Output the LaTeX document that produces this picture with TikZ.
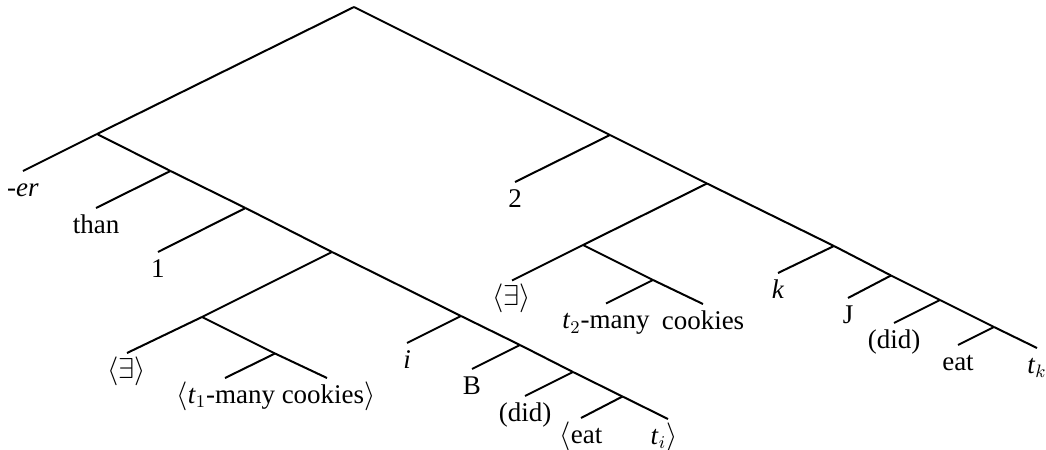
\documentclass[tikz,border=0pt]{standalone}
\usepackage{fontspec}
\setmainfont{Liberation Serif}
\usepackage{amsmath}

\begin{document}
\begin{tikzpicture}[
    x=0.5pt, y=-0.5pt,
    edge/.style={line width=1pt},
    leaf/.style={
        anchor=north,
        inner xsep=0pt,
        inner ysep=2.5pt,
        text height=10pt,
        text depth=3pt,
        font=\fontsize{13.5}{16}\selectfont
    }
]
\useasboundingbox (0,0) rectangle (1046,450);

% branching points
\coordinate (root) at (354,7);
\coordinate (comp) at (97,134);
\coordinate (than) at (170.5,171);
\coordinate (one) at (245.5,208);
\coordinate (quant) at (332,252);
\coordinate (ex) at (202,317);
\coordinate (many) at (275,353.5);
\coordinate (idx) at (461,316);
\coordinate (subj) at (520,345);
\coordinate (aux) at (573,372);
\coordinate (vp) at (622.5,396.5);
\coordinate (two) at (610,135);
\coordinate (main) at (707,183.5);
\coordinate (ex2) at (583,245);
\coordinate (many2) at (653,280);
\coordinate (kidx) at (834,246);
\coordinate (subj2) at (891,275.5);
\coordinate (aux2) at (940,300);
\coordinate (vp2) at (994,327);

% ends of the two leaves under one label
\coordinate (tone) at (225,378);
\coordinate (cook) at (327,378);

% leaves
\node[leaf] (er) at (23,171) {\textit{-er}};
\node[leaf] (thanw) at (96,208) {than};
\node[leaf] (onew) at (158,252) {1};
\node[leaf] (exw) at (127,353) {$\langle\exists\rangle$};
\node[leaf] (manyw) at (276,378) {$\langle$\textit{t}$_1$-many cookies$\rangle$};
\node[leaf] (iw) at (407,343) {\textit{i}};
\node[leaf] (bw) at (472,369) {B};
\node[leaf] (didw) at (525,396) {(did)};
\node[leaf] (eatw) at (581,418) {$\langle$eat};
\node[leaf] (tiw) at (664,419) {\textit{t}$_i\rangle$};
\node[leaf] (twow) at (515,182) {2};
\node[leaf] (ex2w) at (512,280.5) {$\langle\exists\rangle$};
\node[leaf] (tw) at (606,303.5) {\textit{t}$_2$-many};
\node[leaf] (cookw) at (703,304) {cookies};
\node[leaf] (kw) at (778,273) {\textit{k}};
\node[leaf] (jw) at (848,298) {J};
\node[leaf] (did2w) at (894,323) {(did)};
\node[leaf] (eat2w) at (958,345) {eat};
\node[leaf] (tkw) at (1037,348) {\textit{t}$_k$};

% left part
\draw[edge] (root) -- (comp);
\draw[edge] (comp) -- (er.north);
\draw[edge] (comp) -- (than);
\draw[edge] (than) -- (thanw.north);
\draw[edge] (than) -- (one);
\draw[edge] (one) -- (onew.north);
\draw[edge] (one) -- (quant);
\draw[edge] (quant) -- (ex);
\draw[edge] (ex) -- (exw.north);
\draw[edge] (ex) -- (many);
\draw[edge] (many) -- (tone);
\draw[edge] (many) -- (cook);
\draw[edge] (quant) -- (idx);
\draw[edge] (idx) -- (iw.north);
\draw[edge] (idx) -- (subj);
\draw[edge] (subj) -- (bw.north);
\draw[edge] (subj) -- (aux);
\draw[edge] (aux) -- (didw.north);
\draw[edge] (aux) -- (vp);
\draw[edge] (vp) -- (eatw.north);
\draw[edge] (vp) -- ([xshift=2pt]tiw.north);

% right part
\draw[edge] (root) -- (two);
\draw[edge] (two) -- (twow.north);
\draw[edge] (two) -- (main);
\draw[edge] (main) -- (ex2);
\draw[edge] (ex2) -- (ex2w.north);
\draw[edge] (ex2) -- (many2);
\draw[edge] (many2) -- (tw.north);
\draw[edge] (many2) -- (cookw.north);
\draw[edge] (main) -- (kidx);
\draw[edge] (kidx) -- (kw.north);
\draw[edge] (kidx) -- (subj2);
\draw[edge] (subj2) -- (jw.north);
\draw[edge] (subj2) -- (aux2);
\draw[edge] (aux2) -- (did2w.north);
\draw[edge] (aux2) -- (vp2);
\draw[edge] (vp2) -- (eat2w.north);
\draw[edge] (vp2) -- (tkw.north);
\end{tikzpicture}
\end{document}
